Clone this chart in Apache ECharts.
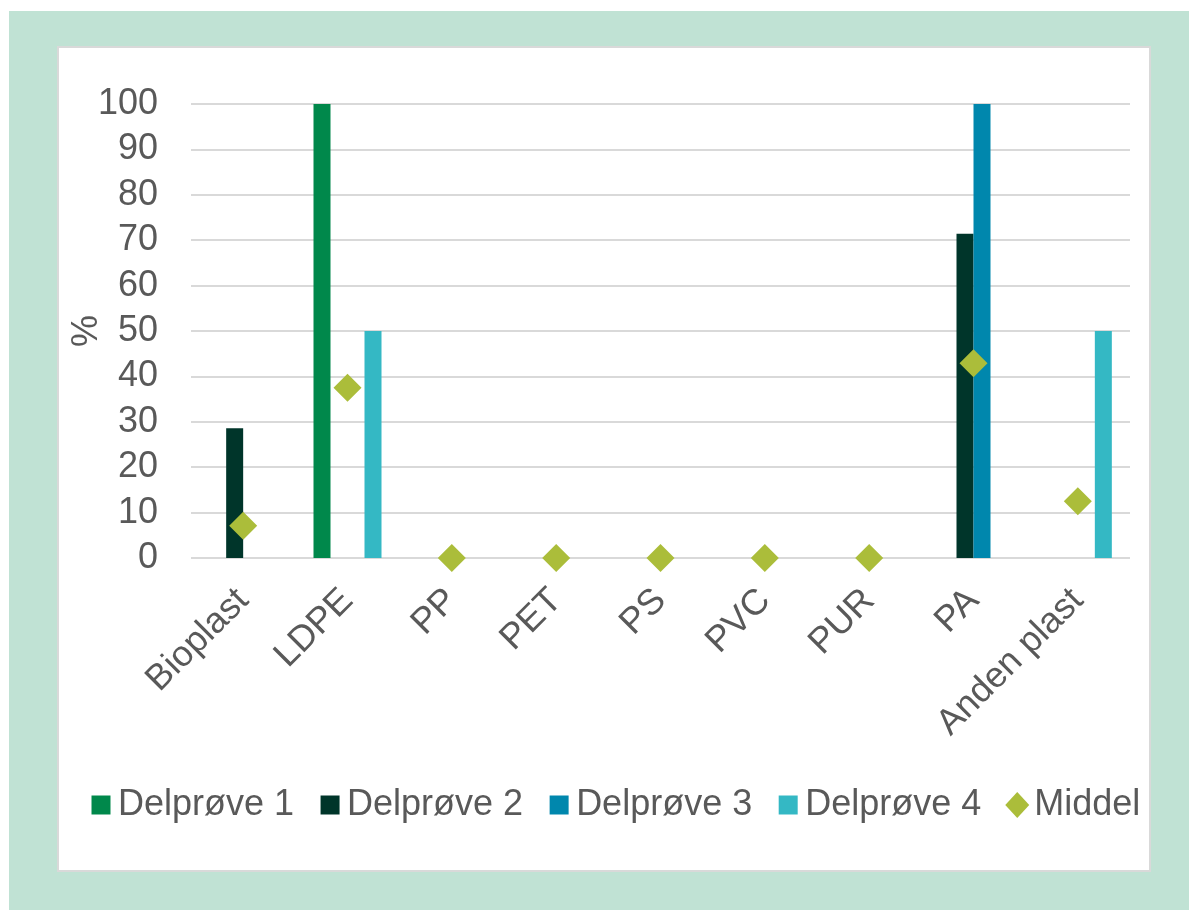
<!DOCTYPE html>
<html>
<head>
<meta charset="utf-8">
<title>Plasttyper pr. delprøve</title>
<script src="https://cdn.jsdelivr.net/npm/echarts@6/dist/echarts.min.js"></script>
<style>
  html, body { margin: 0; padding: 0; background: #ffffff; }
  #chart { width: 1189px; height: 910px; }
</style>
</head>
<body>
<div id="chart"></div>
<script>
// Plastic types found in each sub-sample, in percent
const categories = ['Bioplast', 'LDPE', 'PP', 'PET', 'PS', 'PVC', 'PUR', 'PA', 'Anden plast'];
const delprove1 = [0, 100, 0, 0, 0, 0, 0, 0, 0];
const delprove2 = [28.6, 0, 0, 0, 0, 0, 0, 71.4, 0];
const delprove3 = [0, 0, 0, 0, 0, 0, 0, 100, 0];
const delprove4 = [0, 50, 0, 0, 0, 0, 0, 0, 50];
const middel = [7.1, 37.5, 0, 0, 0, 0, 0, 42.9, 12.5];
const yTicks = { min: 0, max: 100, step: 10 };

const seriesNames = ['Delprøve 1', 'Delprøve 2', 'Delprøve 3', 'Delprøve 4', 'Middel'];
const colors = ['#00884b', '#00352a', '#0087ad', '#34b8c4', '#abbd3a'];

const textColor = '#595959';
const fontFamily = "'Liberation Sans', Arial, sans-serif";
const fontSize = 36;
// square legend key drawn inside a slightly larger box, so the diamond key can be bigger
const squareIcon = 'path://M0,0M24,26M2.5,3.5h19v19h-19z';

const chart = echarts.init(document.getElementById('chart'), null, { renderer: 'canvas' });

function barSeries(name, data, color) {
  return {
    name: name,
    type: 'bar',
    data: data,
    barWidth: 17,
    barGap: '0%',
    itemStyle: { color: color },
    emphasis: { disabled: true }
  };
}

chart.setOption({
  animation: false,
  textStyle: { fontFamily: fontFamily },
  graphic: [
    { type: 'rect', shape: { x: 9, y: 11, width: 1180, height: 899 }, style: { fill: '#c0e2d4' }, z: -10 },
    { type: 'rect', shape: { x: 58, y: 47, width: 1092, height: 824 }, style: { fill: '#ffffff', stroke: '#d9d9d9', lineWidth: 2 }, z: -9 }
  ],
  grid: { left: 191, right: 59, top: 104, bottom: 352, containLabel: false },
  legend: {
    left: 84,
    top: 782,
    itemWidth: 24,
    itemHeight: 26,
    itemGap: 24,
    itemTextGap: 7,
    textStyle: { color: textColor, fontSize: fontSize, fontFamily: fontFamily },
    data: [
      { name: seriesNames[0], icon: squareIcon },
      { name: seriesNames[1], icon: squareIcon },
      { name: seriesNames[2], icon: squareIcon },
      { name: seriesNames[3], icon: squareIcon },
      { name: seriesNames[4], icon: 'diamond' }
    ]
  },
  xAxis: {
    type: 'category',
    data: categories,
    axisLine: { show: false },
    axisTick: { show: false },
    axisLabel: { rotate: 45, margin: 37, color: textColor, fontSize: fontSize, interval: 0 },
    splitLine: { show: false }
  },
  yAxis: {
    type: 'value',
    min: yTicks.min,
    max: yTicks.max,
    interval: yTicks.step,
    name: '%',
    nameLocation: 'middle',
    nameGap: 86,
    nameMoveOverlap: false,
    nameRotate: 90,
    nameTextStyle: { color: textColor, fontSize: fontSize },
    axisLine: { show: false },
    axisTick: { show: false },
    axisLabel: { margin: 33, color: textColor, fontSize: fontSize },
    splitLine: { lineStyle: { color: '#d9d9d9', width: 2 } }
  },
  series: [
    barSeries(seriesNames[0], delprove1, colors[0]),
    barSeries(seriesNames[1], delprove2, colors[1]),
    barSeries(seriesNames[2], delprove3, colors[2]),
    barSeries(seriesNames[3], delprove4, colors[3]),
    {
      name: seriesNames[4],
      type: 'scatter',
      data: middel,
      symbol: 'diamond',
      symbolSize: 28,
      itemStyle: { color: colors[4], opacity: 1 },
      emphasis: { disabled: true },
      z: 5
    }
  ]
});
</script>
</body>
</html>
